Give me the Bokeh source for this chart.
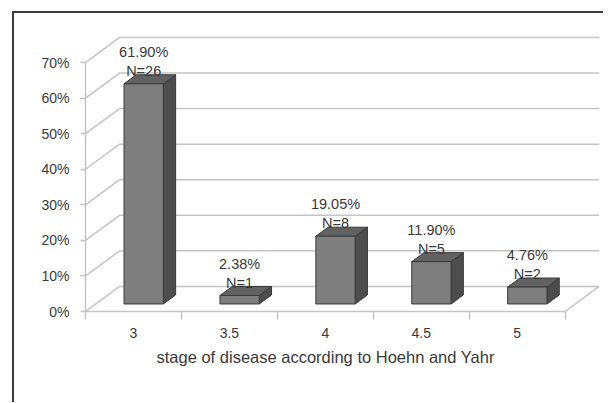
from bokeh.plotting import figure
from bokeh.models import FixedTicker, LinearAxis, Range1d, Title
from bokeh.embed import file_html
from bokeh.resources import INLINE
from bokeh.core.properties import value

# ---- data ----
categories = ["3", "3.5", "4", "4.5", "5"]
percents = [61.90, 2.38, 19.05, 11.90, 4.76]
counts = [26, 1, 8, 5, 2]
y_ticks = [0, 10, 20, 30, 40, 50, 60, 70]
y_tick_labels = ["0%", "10%", "20%", "30%", "40%", "50%", "60%", "70%"]
x_title = "stage of disease according to Hoehn and Yahr"

FONT = "Liberation Sans"
TXT = "#3a3a3a"
GRID = "#c4c4c4"

n = len(categories)
DX = 0.3556   # depth offset (category units)
DY = 7.05     # depth offset (percent units)
F0, F1 = 0.30, 0.66   # bar front/back depth fractions
W = 0.41      # bar width (category units)

p = figure(width=589, height=382,
           x_range=Range1d(0, n + 0.38), y_range=Range1d(0, 77.6),
           x_axis_type=None, y_axis_type=None,
           output_backend="svg", toolbar_location=None,
           min_border_left=71, min_border_right=4,
           min_border_top=22, min_border_bottom=93)
p.xgrid.visible = False
p.ygrid.visible = False
p.outline_line_color = None
p.background_fill_color = "white"
p.border_fill_color = "white"
p.styles = {"margin-left": "12px", "margin-top": "11px",
            "box-sizing": "content-box", "padding-bottom": "7px",
            "border-left": "2px solid #3c3c3c", "border-top": "2px solid #3c3c3c"}

# ---- 3D walls / gridlines ----
gx = [[0, DX, n + DX] for v in y_ticks]
gy = [[v, v + DY, v + DY] for v in y_ticks]
gx.append([n, n + DX])
gy.append([0, DY])
p.multi_line(gx, gy, line_color=GRID, line_width=1.5)

# ---- 3D bars ----
ox0, oy0 = F0 * DX, F0 * DY
ox1, oy1 = F1 * DX, F1 * DY
front_x, front_y, side_x, side_y, top_x, top_y = [], [], [], [], [], []
lab_x, lab_y, pct_txt, n_txt = [], [], [], []
for i, v in enumerate(percents):
    c = i + 0.5
    l = c - W / 2
    r = c + W / 2
    front_x.append([l + ox0, r + ox0, r + ox0, l + ox0])
    front_y.append([oy0, oy0, v + oy0, v + oy0])
    side_x.append([r + ox0, r + ox1, r + ox1, r + ox0])
    side_y.append([oy0, oy1, v + oy1, v + oy0])
    top_x.append([l + ox0, r + ox0, r + ox1, l + ox1])
    top_y.append([v + oy0, v + oy0, v + oy1, v + oy1])
    lab_x.append(c + ox0)
    lab_y.append(v + oy0)
    pct_txt.append(f"{v:.2f}%")
    n_txt.append(f"N={counts[i]}")

p.patches(side_x, side_y, fill_color="#4d4d4d", line_color="#3a3a3a", line_width=1)
p.patches(top_x, top_y, fill_color="#616161", line_color="#3a3a3a", line_width=1)
p.patches(front_x, front_y, fill_color="#7e7e7e", line_color="#3a3a3a", line_width=1)

p.text(lab_x, lab_y, text=pct_txt, y_offset=-32, text_align="center", text_baseline="middle",
       text_font=value(FONT), text_font_size="14.5px", text_color=TXT)
p.text(lab_x, lab_y, text=n_txt, y_offset=-13, text_align="center", text_baseline="middle",
       text_font=value(FONT), text_font_size="14.5px", text_color=TXT)

# ---- axes ----
yax = LinearAxis(ticker=FixedTicker(ticks=y_ticks), bounds=(0, 70),
                 major_label_overrides={t: s for t, s in zip(y_ticks, y_tick_labels)})
yax.axis_line_color = GRID
yax.axis_line_width = 1.5
yax.major_tick_line_color = GRID
yax.major_tick_line_width = 1.5
yax.major_tick_out = 5
yax.major_tick_in = 0
yax.minor_tick_line_color = None
yax.major_label_standoff = 11
yax.major_label_text_font = FONT
yax.major_label_text_font_size = "14px"
yax.major_label_text_color = TXT
p.add_layout(yax, "left")

cat_centers = [i + 0.5 for i in range(n)]
xax = LinearAxis(ticker=FixedTicker(ticks=cat_centers, minor_ticks=list(range(n + 1))),
                 bounds=(0, n),
                 major_label_overrides={c: s for c, s in zip(cat_centers, categories)})
xax.axis_line_color = GRID
xax.axis_line_width = 1.5
xax.major_tick_line_color = None
xax.major_tick_out = 0
xax.major_tick_in = 0
xax.minor_tick_line_color = GRID
xax.minor_tick_line_width = 1.5
xax.minor_tick_out = 8
xax.minor_tick_in = 0
xax.major_label_standoff = 8
xax.major_label_text_font = FONT
xax.major_label_text_font_size = "14px"
xax.major_label_text_color = TXT
p.add_layout(xax, "below")

ttl = Title(text=x_title, align="left", offset=71, standoff=10,
            text_font=FONT, text_font_size="16.5px", text_font_style="normal",
            text_color=TXT)
p.add_layout(ttl, "below")

open("out.html", "w").write(file_html(p, INLINE))
